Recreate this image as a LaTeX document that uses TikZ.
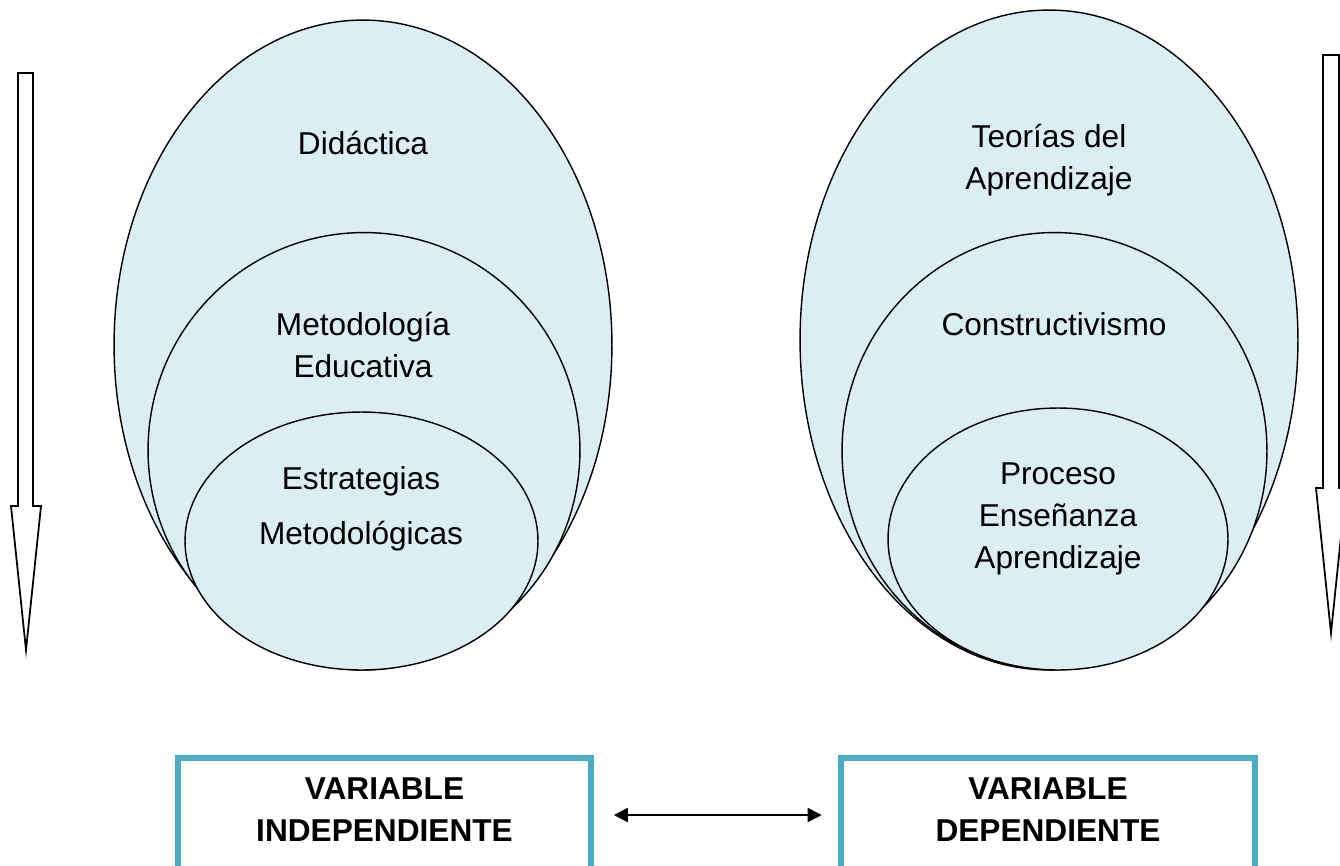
\documentclass[tikz,border=0pt]{standalone}
\usepackage{fontspec}
\setmainfont{Liberation Sans}
\usetikzlibrary{arrows.meta,shapes.geometric}
\definecolor{capafill}{RGB}{219,238,244}
\definecolor{marcoazul}{RGB}{75,172,198}

\begin{document}
\begin{tikzpicture}[x=0.02cm, y=-0.02cm,
    capa/.style={draw, ellipse, fill=capafill, line width=0.8pt, inner sep=0pt},
    rotulo/.style={align=center, font=\fontsize{18}{24}\selectfont},
    marco/.style={draw=marcoazul, line width=3.2pt, fill=white, inner sep=0pt},
    titulo/.style={align=center, font=\fontsize{18}{24}\selectfont\bfseries},
    flecha/.style={draw, line width=1pt, fill=white, line join=miter}]
    \useasboundingbox (0,0) rectangle (1340,866);

    % capas de la variable independiente
    \node[capa, minimum width=9.96cm, minimum height=13cm]    (DI)  at (363,345)   {};
    \node[capa, minimum width=8.64cm, minimum height=8.7cm]   (ME)  at (364,450)   {};
    \node[capa, minimum width=7.06cm, minimum height=5.16cm]  (EM)  at (361.5,541) {};

    % capas de la variable dependiente
    \node[capa, minimum width=9.96cm, minimum height=13.2cm]  (TA)  at (1049,340)   {};
    \node[capa, minimum width=8.5cm,  minimum height=8.74cm]  (CO)  at (1054.5,451) {};
    \node[capa, minimum width=6.8cm,  minimum height=5.24cm]  (PEA) at (1058,539)   {};

    % textos
    \node[rotulo]  (tDI)  at (363,143)  {Didáctica};
    \node[rotulo]  (tME)  at (363,345)  {Metodología\\Educativa};
    \node[rotulo, font=\fontsize{18}{31}\selectfont]  (tEM)  at (361,509)  {Estrategias\\Metodológicas};
    \node[rotulo]  (tTA)  at (1049,160) {Teorías del\\Aprendizaje};
    \node[rotulo]  (tCO)  at (1054,324) {Constructivismo};
    \node[rotulo]  (tPEA) at (1058,519) {Proceso\\Enseñanza\\Aprendizaje};

    % flechas huecas
    \draw[flecha] (18,73) -- (33,73) -- (33,506) -- (41,506) -- (26,650) -- (11,506) -- (18,506) -- cycle;
    \draw[flecha] (1323,55) -- (1339,55) -- (1339,488) -- (1346,488) -- (1331,633) -- (1316,488) -- (1323,488) -- cycle;

    % variables
    \node[marco, minimum width=8.26cm, minimum height=2.28cm]  (VI)  at (384.5,815) {};
    \node[titulo]  (tVI)  at (384.5,810) {VARIABLE\\INDEPENDIENTE};
    \node[marco, minimum width=8.28cm, minimum height=2.28cm]  (VD)  at (1048,815)  {};
    \node[titulo]  (tVD)  at (1048,810)  {VARIABLE\\DEPENDIENTE};

    \draw[{Triangle[length=8pt,width=8pt]}-{Triangle[length=8pt,width=8pt]}, line width=1pt,
          shorten <=0.4cm, shorten >=0.33cm] (VI) -- (VD);
\end{tikzpicture}
\end{document}
